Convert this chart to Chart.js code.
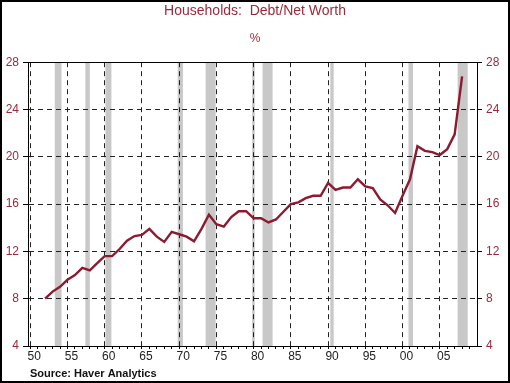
<!DOCTYPE html>
<html>
<head>
<meta charset="utf-8">
<script src="https://cdn.jsdelivr.net/npm/chart.js@4.4.1/dist/chart.umd.min.js"></script>
<style>
  html, body { margin: 0; padding: 0; background: #fff; }
  #wrap { width: 510px; height: 383px; }
</style>
</head>
<body>
<div id="wrap"><canvas id="myChart" width="510" height="383"></canvas></div>
<script>
// Households debt / net worth, %, annual
const years = [1952, 1953, 1954, 1955, 1956, 1957, 1958, 1959, 1960, 1961,
  1962, 1963, 1964, 1965, 1966, 1967, 1968, 1969, 1970, 1971,
  1972, 1973, 1974, 1975, 1976, 1977, 1978, 1979, 1980, 1981,
  1982, 1983, 1984, 1985, 1986, 1987, 1988, 1989, 1990, 1991,
  1992, 1993, 1994, 1995, 1996, 1997, 1998, 1999, 2000, 2001,
  2002, 2003, 2004, 2005, 2006, 2007, 2008];
const debtToNetWorth = [8.0, 8.6, 9.0, 9.6, 10.0, 10.6, 10.4, 11.0, 11.6, 11.6,
  12.2, 12.9, 13.3, 13.4, 13.9, 13.25, 12.8, 13.65, 13.45, 13.25,
  12.85, 13.9, 15.1, 14.3, 14.1, 14.9, 15.4, 15.4, 14.8, 14.8,
  14.45, 14.7, 15.35, 16.0, 16.15, 16.5, 16.7, 16.7, 17.8, 17.2,
  17.4, 17.4, 18.1, 17.5, 17.35, 16.4, 15.9, 15.25, 16.7, 18.1,
  20.9, 20.5, 20.4, 20.15, 20.65, 21.9, 26.8];

// recession shading (start / end, fractional years)
const recessionStart = [1953.3, 1957.4, 1960.1, 1969.8, 1973.55, 1979.8, 1981.2, 1990.3, 2000.8, 2007.4];
const recessionEnd   = [1954.2, 1958.0, 1960.9, 1970.5, 1974.9, 1980.15, 1982.55, 1990.75, 2001.4, 2008.75];

const xMajorYears = [1950, 1955, 1960, 1965, 1970, 1975, 1980, 1985, 1990, 1995, 2000, 2005];
const xTickLabels = ['50', '55', '60', '65', '70', '75', '80', '85', '90', '95', '00', '05'];
const yTicks = [4, 8, 12, 16, 20, 24, 28];

const red = '#8c1a30';
const textRed = '#9a2a3a';
const font = '"Liberation Sans", Arial, sans-serif';

const frame = {
  id: 'frame',
  beforeDraw(chart) {
    const { ctx, chartArea: a, scales: { x } } = chart;
    ctx.save();
    ctx.fillStyle = '#c8c8c8';
    recessionStart.forEach((s, i) => {
      const x0 = x.getPixelForValue(s);
      const x1 = x.getPixelForValue(recessionEnd[i]);
      ctx.fillRect(x0, a.top, x1 - x0, a.bottom - a.top);
    });
    ctx.restore();
  },
  afterDraw(chart) {
    const { ctx, chartArea: a, width, height } = chart;
    ctx.save();
    ctx.strokeStyle = '#000';
    ctx.lineWidth = 1;
    ctx.beginPath();
    ctx.moveTo(a.left, Math.round(a.top) + 0.5);
    ctx.lineTo(a.right, Math.round(a.top) + 0.5);
    ctx.stroke();
    ctx.lineWidth = 2;
    ctx.strokeRect(1, 1, width - 2, height - 2);
    ctx.fillStyle = '#111';
    ctx.font = 'bold 11px ' + font;
    ctx.textBaseline = 'middle';
    ctx.fillText('Source: Haver Analytics', 30, 374);
    ctx.restore();
  }
};

const tickSet = (vals) => (scale) => { scale.ticks = vals.map(v => ({ value: v })); };

const ctx = document.getElementById('myChart').getContext('2d');
new Chart(ctx, {
  type: 'line',
  data: {
    datasets: [{
      label: 'Debt/Net Worth',
      data: years.map((y, i) => ({ x: y, y: debtToNetWorth[i] })),
      borderColor: red,
      borderWidth: 2.4,
      pointRadius: 0,
      tension: 0,
      fill: false
    }]
  },
  options: {
    responsive: false,
    devicePixelRatio: 1,
    animation: false,
    layout: { padding: 0 },
    plugins: {
      legend: { display: false },
      tooltip: { enabled: false },
      title: {
        display: true,
        text: 'Households:  Debt/Net Worth',
        color: textRed,
        font: { family: font, size: 14, weight: 'normal' },
        padding: { top: 3, bottom: 10 }
      },
      subtitle: {
        display: true,
        text: '%',
        color: textRed,
        font: { family: font, size: 12, weight: 'normal' },
        padding: { top: 2, bottom: 16 }
      }
    },
    scales: {
      x: {
        type: 'linear',
        min: 1949.7,
        max: 2010,
        afterBuildTicks: (scale) => {
          const t = [];
          for (let v = 1950; v <= 2009; v++) t.push({ value: v });
          scale.ticks = t;
        },
        afterFit: (s) => { s.height = 37; },
        grid: {
          color: (c) => (c.tick && xMajorYears.includes(c.tick.value)) ? '#222' : 'rgba(0,0,0,0)',
          lineWidth: 1,
          tickColor: '#000',
          tickLength: 3
        },
        border: { display: true, color: '#000', width: 1, dash: [5, 4] },
        ticks: {
          autoSkip: false,
          maxRotation: 0,
          padding: 0,
          labelOffset: 4,
          color: '#222',
          font: { family: font, size: 12 },
          callback: (v) => {
            const i = xMajorYears.indexOf(v);
            return i >= 0 ? xTickLabels[i] : '';
          }
        }
      },
      y: {
        position: 'left',
        min: 4,
        max: 28,
        afterBuildTicks: tickSet(yTicks),
        afterFit: (s) => { s.width = 28; },
        grid: {
          color: (c) => (c.tick && (c.tick.value === 4 || c.tick.value === 28)) ? 'rgba(0,0,0,0)' : '#222',
          lineWidth: 1,
          tickColor: '#000',
          tickLength: 5
        },
        border: { display: true, color: '#000', width: 1, dash: [5, 4] },
        ticks: {
          padding: 4,
          color: textRed,
          font: { family: font, size: 12 }
        }
      },
      y2: {
        position: 'right',
        min: 4,
        max: 28,
        afterBuildTicks: tickSet(yTicks),
        afterFit: (s) => { s.width = 33; },
        grid: {
          drawOnChartArea: false,
          tickColor: '#000',
          tickLength: 5
        },
        border: { display: true, color: '#000', width: 1 },
        ticks: {
          padding: 4,
          color: textRed,
          font: { family: font, size: 12 }
        }
      }
    }
  },
  plugins: [frame]
});
</script>
</body>
</html>
